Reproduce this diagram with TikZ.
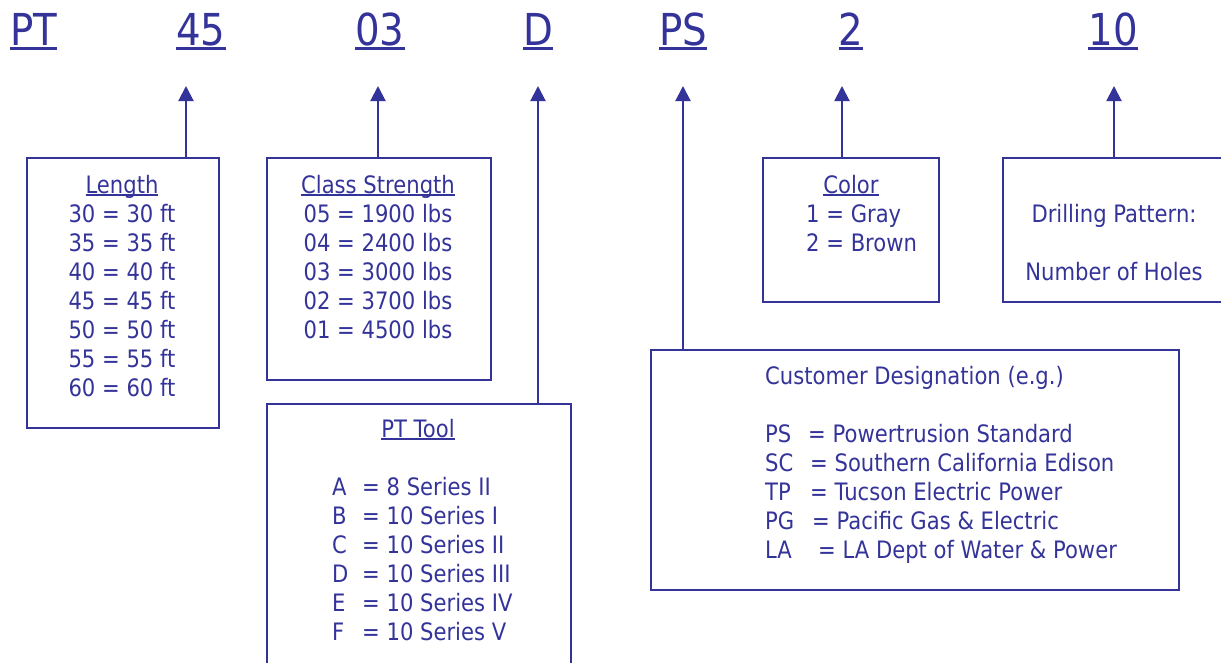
\documentclass[tikz,border=0pt]{standalone}
\usepackage{fontspec}
\setmainfont{DejaVu Sans}[FakeStretch=0.88]
\usetikzlibrary{arrows.meta}
\definecolor{ink}{HTML}{333399}
\newcommand\ulx[1]{\setbox0\hbox{#1}\rlap{\rule[-0.11em]{\wd0}{0.075em}}\box0}
\begin{document}
\begin{tikzpicture}[x=1pt,y=-1pt,
  box/.style={draw=ink, line width=2pt, rectangle, inner sep=0pt, anchor=north west},
  code/.style={text=ink, font=\fontsize{44}{50}\selectfont, anchor=base, inner sep=0pt},
  txt/.style={text=ink, font=\fontsize{24}{29}\selectfont, anchor=base, inner sep=0pt},
  lt/.style={txt, anchor=base west},
  link/.style={draw=ink, line width=2pt, -{Triangle[width=15pt,length=15pt]}}]
\useasboundingbox (0,0) rectangle (1221,662);
\clip (0,0) rectangle (1221,662);

% top code labels
\node[code] (cPT) at (34,45) {\ulx{PT}};
\node[code] (c45) at (201,45) {\ulx{45}};
\node[code] (c03) at (380,45) {\ulx{03}};
\node[code] (cD)  at (538,45) {\ulx{D}};
\node[code] (cPS) at (683,45) {\ulx{PS}};
\node[code] (c2)  at (851,45) {\ulx{2}};
\node[code] (c10) at (1113,45) {\ulx{10}};

% boxes
\node[box, minimum width=192pt, minimum height=270pt] (lenbox) at (26,157) {};
\node[box, minimum width=224pt, minimum height=222pt] (clsbox) at (266,157) {};
\node[box, minimum width=304pt, minimum height=280pt] (toolbox) at (266,403) {};
\node[box, minimum width=176pt, minimum height=144pt] (colbox) at (762,157) {};
\node[box, minimum width=240pt, minimum height=144pt] (drbox) at (1002,157) {};
\node[box, minimum width=528pt, minimum height=240pt] (cusbox) at (650,349) {};

% arrow tips
\coordinate (t45) at (186,86);
\coordinate (t03) at (378,86);
\coordinate (tD)  at (538,86);
\coordinate (tPS) at (683,86);
\coordinate (t2)  at (842,86);
\coordinate (t10) at (1114,86);
\draw[link] (lenbox.north -| t45) -- (t45);
\draw[link] (clsbox.north -| t03) -- (t03);
\draw[link] (toolbox.north -| tD) -- (tD);
\draw[link] (cusbox.north -| tPS) -- (tPS);
\draw[link] (colbox.north -| t2) -- (t2);
\draw[link] (drbox.north -| t10) -- (t10);

% Length
\node[txt] (lenT) at (122,193) {\ulx{Length}};
\foreach \v [count=\i] in {30,35,40,45,50,55,60}
  \node[txt] (len\i) at (122,{193+29*\i}) {\v\ = \v\ ft};

% Class strength
\node[txt] (clsT) at (378,193) {\ulx{Class Strength}};
\foreach \a/\b [count=\i] in {05/1900,04/2400,03/3000,02/3700,01/4500}
  \node[txt] (cls\i) at (378,{193+29*\i}) {\a\ = \b\ lbs};

% PT Tool
\node[txt] (toolT) at (418,437) {\ulx{PT Tool}};
\foreach \a/\b [count=\i] in {A/8 Series II,B/10 Series I,C/10 Series II,D/10 Series III,E/10 Series IV,F/10 Series V}
  \node[lt] (tool\i) at (332,{466+29*\i}) {\makebox[30pt][l]{\a}= \b};

% Color
\node[txt] (colT) at (851,193) {\ulx{Color}};
\node[lt] (col1) at (806,222) {1 = Gray};
\node[lt] (col2) at (806,251) {2 = Brown};

% Drilling
\node[txt] (dr1) at (1114,222) {Drilling Pattern:};
\node[txt] (dr2) at (1114,280) {Number of Holes};

% Customer
\node[lt] (cusT) at (765,384) {Customer Designation (e.g.)};
\node[lt] (cus1) at (765,442) {\makebox[43pt][l]{PS}= Powertrusion Standard};
\node[lt] (cus2) at (765,471) {\makebox[45pt][l]{SC}= Southern California Edison};
\node[lt] (cus3) at (765,500) {\makebox[45pt][l]{TP}= Tucson Electric Power};
\node[lt] (cus4) at (765,529) {\makebox[47pt][l]{PG}= Pacific Gas \& Electric};
\node[lt] (cus5) at (765,558) {\makebox[53pt][l]{LA}= LA Dept of Water \& Power};
\end{tikzpicture}
\end{document}
